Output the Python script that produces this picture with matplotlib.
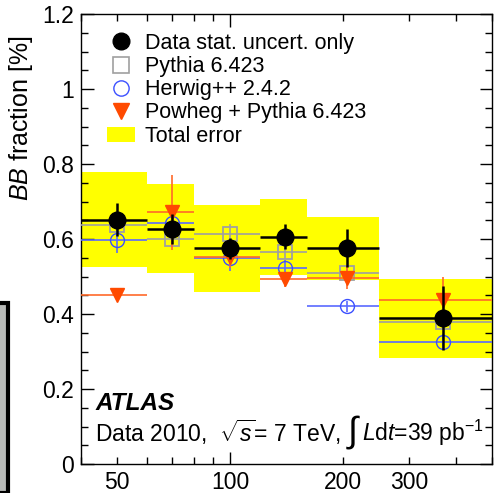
import numpy as np
import matplotlib
matplotlib.use("Agg")
import matplotlib.pyplot as plt
from matplotlib.patches import Rectangle, Patch
from matplotlib.lines import Line2D
from matplotlib.ticker import FixedLocator, FuncFormatter

plt.rcParams['font.family'] = ['Liberation Sans', 'DejaVu Sans']
plt.rcParams['mathtext.fontset'] = 'custom'
plt.rcParams['mathtext.rm'] = 'Liberation Sans'
plt.rcParams['mathtext.it'] = 'Liberation Sans:italic'
plt.rcParams['mathtext.bf'] = 'Liberation Sans:bold'

# pT bins (GeV) and the point positions inside them
bin_lo = [40, 60, 80, 120, 160, 250]
bin_hi = [60, 80, 120, 160, 250, 500]
x_pts = [50, 70, 100, 140, 205, 370]

# data with stat. error and total error (in %)
data = [0.652, 0.628, 0.576, 0.606, 0.576, 0.389]
data_stat = [0.045, 0.040, 0.028, 0.033, 0.050, 0.085]
data_tot = [0.126, 0.118, 0.116, 0.102, 0.084, 0.105]

pythia = [0.637, 0.600, 0.614, 0.566, 0.510, 0.380]
pythia_err = [0.02, 0.02, 0.025, 0.02, 0.02, 0.02]
herwig = [0.597, 0.643, 0.550, 0.523, 0.421, 0.326]
herwig_err = [0.035, 0.03, 0.035, 0.02, 0.015, 0.02]
powheg = [0.450, 0.672, 0.552, 0.493, 0.497, 0.438]
powheg_err = [0.015, 0.10, 0.03, 0.02, 0.03, 0.06]

fig = plt.figure(figsize=(4.95, 4.93), dpi=100)
ax = fig.add_axes([81/495, 29/493, 411/495, 450/493])

xlo = np.array(x_pts) - np.array(bin_lo)
xhi = np.array(bin_hi) - np.array(x_pts)

# total error bands
for lo, hi, y, e in zip(bin_lo, bin_hi, data, data_tot):
    ax.add_patch(Rectangle((lo, y - e), hi - lo, 2 * e, facecolor='#ffff00',
                           edgecolor='none', zorder=1))

ax.errorbar(x_pts, pythia, yerr=pythia_err, xerr=[xlo, xhi], fmt='s', ms=10,
            mfc='none', mec='#a0a0a0', mew=1.3, ecolor='#a0a0a0', elinewidth=1.2,
            capsize=0, zorder=3)
ax.errorbar(x_pts, herwig, yerr=herwig_err, xerr=[xlo, xhi], fmt='o', ms=10,
            mfc='none', mec='#3c50ff', mew=1.0, ecolor='#5a6aff', elinewidth=1.2,
            capsize=0, zorder=3)
ax.errorbar(x_pts, powheg, yerr=powheg_err, xerr=[xlo, xhi], fmt='v', ms=10,
            mfc='#ff4a00', mec='#ff4a00', ecolor='#ff6a2a', elinewidth=1.2,
            capsize=0, zorder=4)
ax.errorbar(x_pts, data, yerr=data_stat, xerr=[xlo, xhi], fmt='o', ms=12,
            mfc='black', mec='black', ecolor='black', elinewidth=1.8,
            capsize=0, zorder=5)

ax.set_xscale('log')
ax.set_xlim(40, 500)
ax.set_ylim(0, 1.2)

ax.xaxis.set_major_locator(FixedLocator([100]))
ax.xaxis.set_minor_locator(FixedLocator([40, 50, 60, 70, 80, 90, 200, 300, 400, 500]))
ax.xaxis.set_major_formatter(FuncFormatter(lambda v, p: '%d' % v))
ax.xaxis.set_minor_formatter(FuncFormatter(lambda v, p: '%d' % v if v in (50, 200, 300) else ''))
ax.set_yticks(np.arange(0, 1.21, 0.2))
ax.set_yticks(np.arange(0, 1.21, 0.05), minor=True)
ax.yaxis.set_major_formatter(FuncFormatter(lambda v, p: '0' if abs(v) < 1e-9 else ('1' if abs(v - 1) < 1e-9 else '%g' % v)))

ax.tick_params(which='both', direction='in', top=True, right=True, labelsize=16.5, width=1)
ax.tick_params(which='major', length=9, pad=5)
ax.tick_params(which='minor', length=5, pad=5)
for s in ax.spines.values():
    s.set_linewidth(1.0)

fig.text(21/495, 1 - 35/493, r'$BB$ fraction [%]', rotation=90, ha='center',
         va='top', fontsize=18)

# legend
handles = [
    Line2D([], [], ls='none', marker='o', ms=12, mfc='black', mec='black'),
    Line2D([], [], ls='none', marker='s', ms=11, mfc='none', mec='#a0a0a0', mew=1.2),
    Line2D([], [], ls='none', marker='o', ms=11, mfc='none', mec='#3c50ff', mew=1.0),
    Line2D([], [], ls='none', marker='v', ms=11, mfc='#ff4a00', mec='#ff4a00'),
    Patch(facecolor='#ffff00', edgecolor='none'),
]
labels = ['Data stat. uncert. only', 'Pythia 6.423', 'Herwig++ 2.4.2',
          'Powheg + Pythia 6.423', 'Total error']
ax.legend(handles, labels, loc='upper left', bbox_to_anchor=(0.042, 0.977),
          frameon=False, fontsize=15.5, handlelength=1.3, handletextpad=0.45,
          labelspacing=0.1, borderaxespad=0)

ax.text(0.035, 0.135, 'ATLAS', transform=ax.transAxes, fontsize=17.5,
        fontweight='bold', fontstyle='italic', va='center')

# luminosity line, with a tall integral sign between the two pieces
fig.canvas.draw()
r = fig.canvas.get_renderer()
t1 = ax.text(0.035, 0.07, r'Data 2010,  $\sqrt{s}$= 7 TeV,', transform=ax.transAxes,
             fontsize=16.5, va='center')
bb = t1.get_window_extent(r).transformed(ax.transAxes.inverted())
t2 = ax.text(bb.x1 + 0.012, 0.07, r'$\int$', transform=ax.transAxes,
             fontsize=26, va='center')
bb2 = t2.get_window_extent(r).transformed(ax.transAxes.inverted())
ax.text(bb2.x1 + 0.002, 0.07, r'$L$d$t$=39 pb$^{-1}$', transform=ax.transAxes,
        fontsize=16.5, va='center')

# edge of a neighbouring panel at the left border
fig.patches.append(Rectangle((-5/495, 0), 13/495, 190/493, transform=fig.transFigure,
                             facecolor='#b8bab8', edgecolor='black', lw=3))

fig.savefig('out.png', dpi=100)
